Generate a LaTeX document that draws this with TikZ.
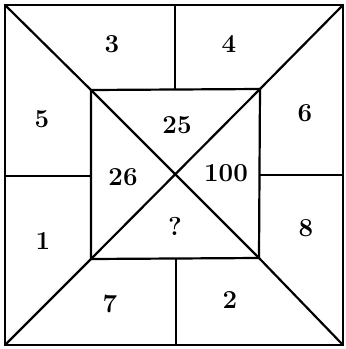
\documentclass[tikz,border=0pt]{standalone}
\usetikzlibrary{calc}

\begin{document}
\begin{tikzpicture}[x=1bp, y=-1bp,
  frame/.style={line width=2.2bp, draw=black, line join=miter},
  num/.style={font=\fontsize{26}{30}\selectfont\bfseries, inner sep=0pt}
]
  \useasboundingbox (0,0) rectangle (346,349);

  % outer and inner square corners
  \coordinate (otl) at (5,5);    \coordinate (otr) at (343,5);
  \coordinate (obl) at (5,345);  \coordinate (obr) at (343,345);
  \coordinate (itl) at (91,90);  \coordinate (itr) at (260,89);
  \coordinate (ibl) at (91,259); \coordinate (ibr) at (259,258);

  % ends of the four dividers
  \coordinate (topo) at (175,5);   \coordinate (topi) at (175,89);
  \coordinate (lefto) at (5,176);  \coordinate (lefti) at (91,176);
  \coordinate (righto) at (343,175); \coordinate (righti) at (260,175);
  \coordinate (boto) at (176,345); \coordinate (boti) at (176,258);

  \draw[frame] (otl) -- (otr) -- (obr) -- (obl) -- cycle;
  \draw[frame] (itl) -- (itr) -- (ibr) -- (ibl) -- cycle;

  % diagonals
  \draw[frame] (otl) -- (itl) -- (ibr) -- (obr);
  \draw[frame] (otr) -- (itr) -- (ibl) -- (obl);

  % dividers
  \draw[frame] (topo) -- (topi);
  \draw[frame] (lefto) -- (lefti);
  \draw[frame] (righti) -- (righto);
  \draw[frame] (boti) -- (boto);

  % numbers
  \node[num] (n3) at (112,44) {3};
  \node[num] (n4) at (229,44) {4};
  \node[num] (n5) at (42,119) {5};
  \node[num] (n6) at (305,113) {6};
  \node[num] (n25) at (177,125) {25};
  \node[num] (n26) at (123,177) {26};
  \node[num] (n100) at (226,173) {100};
  \node[num] (nq) at (175,226) {?};
  \node[num] (n1) at (43,241) {1};
  \node[num] (n8) at (306,228) {8};
  \node[num] (n7) at (110,304) {7};
  \node[num] (n2) at (230,300) {2};
\end{tikzpicture}
\end{document}
